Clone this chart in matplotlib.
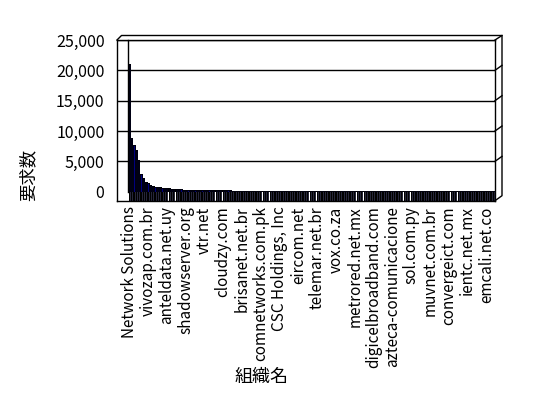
import numpy as np
import matplotlib
matplotlib.use("Agg")
import matplotlib.pyplot as plt
from matplotlib.lines import Line2D

plt.rcParams['font.family'] = ['Noto Sans CJK JP', 'DejaVu Sans']

# request counts per organisation, sorted descending
values = [
    21100, 8800, 7700, 6900, 5200, 2900, 2200, 1600, 1400,
    1100, 900, 850, 820, 800,
    620, 580, 560, 540,
    420, 400, 390, 380, 370,
    330, 320, 310, 300, 295, 290, 285, 280, 275, 270, 265, 260, 255, 250,
    230, 225, 220, 215, 210, 205, 200, 196, 192, 188,
    184, 180, 177, 174, 171, 168, 165, 162, 160, 158,
    156, 154, 152, 150, 148, 146, 144, 142, 140, 138,
    136, 134, 132, 130, 128, 127, 126, 125, 124, 123,
    122, 121, 120, 119, 118, 117, 116, 115, 114, 113,
    112, 111, 110, 109, 108, 107, 106, 105, 104, 103,
    102, 101, 100, 99, 98, 97, 96, 95, 94, 93,
    92, 91, 90, 89, 88, 87, 86, 85, 84, 83,
    82, 81, 80, 79, 78, 77, 76, 75, 74, 73,
    72, 71, 70, 69, 68, 67, 66, 65, 64, 63,
    62, 61, 60, 59, 58, 57, 56, 55, 54, 53,
    52, 51, 50, 49, 48, 47, 46, 45, 44,
]

# only every 8th organisation gets a visible label
shown_labels = [
    'Network Solutions', 'vivozap.com.br', 'anteldata.net.uy', 'shadowserver.org',
    'vtr.net', 'cloudzy.com', 'brisanet.net.br', 'comnetworks.com.pk',
    'CSC Holdings, Inc', 'eircom.net', 'telemar.net.br', 'vox.co.za',
    'metrored.net.mx', 'digicelbroadband.com', 'azteca-comunicacione', 'sol.com.py',
    'muvnet.com.br', 'convergeict.com', 'ientc.net.mx', 'emcali.net.co',
]
label_step = 8
y_ticks = [0, 5000, 10000, 15000, 20000, 25000]

W, H = 548, 398
fig = plt.figure(figsize=(W / 100, H / 100), dpi=100)

# axes box = front frame of the excel style 3d chart (pixel coords)
L, R, T, B = 117, 495, 40, 200.7
ax = fig.add_axes([L / W, 1 - B / H, (R - L) / W, (B - T) / H])

x = np.arange(len(values))
ymin = -1483
ax.set_xlim(-5.19, 155.66)
ax.set_ylim(ymin, 25000)

# gridlines on the back wall
for v in y_ticks[1:]:
    ax.axhline(v, color='black', lw=1, zorder=1)

# side/top faces (dark), front faces, and the part standing on the floor
ax.bar(x + 0.3, values, width=1.0, bottom=0, color='black', zorder=2)
ax.bar(x, np.array(values) - ymin, width=0.55, bottom=ymin,
       color='#000080', edgecolor='black', linewidth=0.5, zorder=3)
ax.bar(x, [-ymin] * len(values), width=0.55, bottom=ymin, color='black', zorder=4)

for s in ax.spines.values():
    s.set_color('black')
    s.set_linewidth(1)

ax.set_yticks(y_ticks)
ax.set_yticklabels([f'{v:,}' for v in y_ticks])
ax.set_xticks(x[::label_step])
ax.set_xticklabels(shown_labels, rotation=90, ha='center', va='top')
ax.tick_params(axis='y', length=0, pad=9, labelsize=11.5)
ax.tick_params(axis='x', length=0, pad=4, labelsize=11)


def px(xp, yp):
    return xp / W, 1 - yp / H


def frame_line(pts):
    xs, ys = zip(*[px(a, b) for a, b in pts])
    fig.add_artist(Line2D(xs, ys, color='black', lw=1))


# wall edges for the pseudo 3d look
frame_line([(127.5, T), (127.5, 192)])
frame_line([(L, T), (121.5, 35.5), (502, 35.5), (502, 195.7), (R, B)])
frame_line([(R, T), (502, 35.5)])
for v in y_ticks[1:-1]:
    yp = B - (v - ymin) / (25000 - ymin) * (B - T)
    frame_line([(R, yp), (502, yp - 5)])

fig.text(28 / W, 1 - 175 / H, '要求数', rotation=90, ha='center', va='center', fontsize=12.5)
fig.text(262 / W, 1 - 377 / H, '組織名', ha='center', va='center', fontsize=13)

fig.savefig('out.png', dpi=100)
